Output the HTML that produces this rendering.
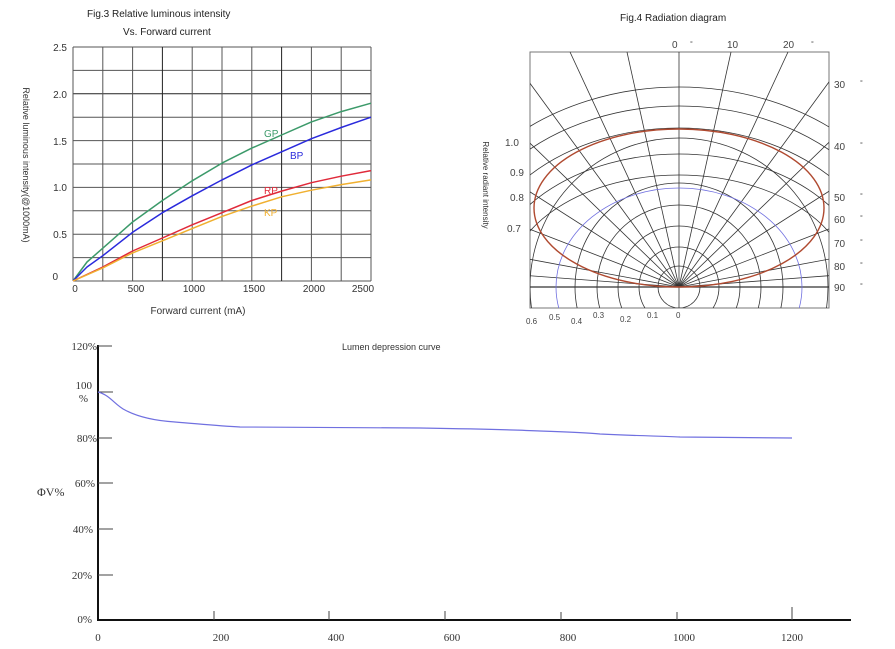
<!DOCTYPE html>
<html><head><meta charset="utf-8"><style>
html,body{margin:0;padding:0;background:#fff;}
svg{display:block;font-family:"Liberation Sans",sans-serif;}
.s{font-family:"Liberation Serif",serif;}
</style></head><body>
<svg width="895" height="649" viewBox="0 0 895 649" xmlns="http://www.w3.org/2000/svg">
<!-- Fig 3 -->
<text x="87" y="17" font-size="10" fill="#222">Fig.3 Relative luminous intensity</text>
<text x="123" y="35" font-size="10" fill="#222">Vs. Forward current</text>
<g stroke="#555" stroke-width="1">
<line x1="73" y1="47" x2="371" y2="47"/><line x1="73" y1="70.4" x2="371" y2="70.4"/>
<line x1="73" y1="93.8" x2="371" y2="93.8" stroke="#222"/><line x1="73" y1="117.2" x2="371" y2="117.2"/>
<line x1="73" y1="140.6" x2="371" y2="140.6"/><line x1="73" y1="164" x2="371" y2="164"/>
<line x1="73" y1="187.4" x2="371" y2="187.4"/><line x1="73" y1="210.8" x2="371" y2="210.8"/>
<line x1="73" y1="234.2" x2="371" y2="234.2"/><line x1="73" y1="257.6" x2="371" y2="257.6"/>
<line x1="73" y1="281" x2="371" y2="281"/>
<line x1="73" y1="47" x2="73" y2="281"/><line x1="102.8" y1="47" x2="102.8" y2="281"/>
<line x1="132.6" y1="47" x2="132.6" y2="281"/><line x1="162.4" y1="47" x2="162.4" y2="281" stroke="#222"/>
<line x1="192.2" y1="47" x2="192.2" y2="281"/><line x1="222" y1="47" x2="222" y2="281"/>
<line x1="251.8" y1="47" x2="251.8" y2="281"/><line x1="281.6" y1="47" x2="281.6" y2="281" stroke="#222"/>
<line x1="311.4" y1="47" x2="311.4" y2="281"/><line x1="341.2" y1="47" x2="341.2" y2="281"/>
<line x1="371" y1="47" x2="371" y2="281"/>
</g>
<g fill="none" stroke-width="1.5" stroke-linejoin="round">
<polyline points="73,281 87,262 102.8,248.2 132.6,222 162.4,200.5 192.2,180.8 222,163.1 251.8,148.1 281.6,135 311.4,121.9 341.2,111.6 371,103.2" stroke="#3c9a6a"/>
<polyline points="73,281 87,267 102.8,255.7 132.6,232.3 162.4,212.7 192.2,195.8 222,179.9 251.8,164.9 281.6,151.8 311.4,138.7 341.2,127.5 371,117.2" stroke="#2a2adc"/>
<polyline points="73,281 102.8,267 132.6,251 162.4,238 192.2,224.8 222,212.7 251.8,200.5 281.6,191.1 311.4,182.7 341.2,176.2 371,170.6" stroke="#e02a3a"/>
<polyline points="73,281 102.8,267.9 132.6,252.9 162.4,240.8 192.2,228.6 222,216.4 251.8,206.1 281.6,196.8 311.4,190.2 341.2,184.6 371,179.9" stroke="#f0b030"/>
</g>
<text x="264" y="137" font-size="10" fill="#3c9a6a">GP</text>
<text x="290" y="159" font-size="10" fill="#2a2adc">BP</text>
<text x="264" y="194" font-size="10" fill="#e02a3a">RP</text>
<text x="264" y="216" font-size="10" fill="#f0b030">KP</text>
<g font-size="10" fill="#333" text-anchor="end">
<text x="67" y="51">2.5</text><text x="67" y="98">2.0</text><text x="67" y="145">1.5</text>
<text x="67" y="191">1.0</text><text x="67" y="238">0.5</text><text x="58" y="280">0</text>
</g>
<g font-size="10" fill="#333" text-anchor="middle">
<text x="75" y="292">0</text><text x="136" y="292">500</text><text x="194" y="292">1000</text>
<text x="254" y="292">1500</text><text x="314" y="292">2000</text><text x="363" y="292">2500</text>
</g>
<text x="198" y="314" font-size="10" fill="#333" text-anchor="middle">Forward current (mA)</text>
<text transform="translate(23,165) rotate(90)" font-size="9" fill="#333" text-anchor="middle">Relative luminous intensity(@1000mA)</text>

<!-- Fig 4 -->
<text x="620" y="21" font-size="10" fill="#222">Fig.4  Radiation diagram</text>
<defs><clipPath id="bx"><rect x="530" y="52" width="299" height="256"/></clipPath></defs>
<rect x="530" y="52" width="299" height="256" fill="none" stroke="#777" stroke-width="1"/>
<g clip-path="url(#bx)" fill="none" stroke="#333" stroke-width="0.8">
<circle cx="679" cy="287" r="21"/><circle cx="679" cy="287" r="40"/><circle cx="679" cy="287" r="61"/>
<circle cx="679" cy="287" r="82"/><circle cx="679" cy="287" r="104"/><circle cx="679" cy="287" r="149"/>
<ellipse cx="679" cy="287" rx="172" ry="112"/><ellipse cx="679" cy="287" rx="190" ry="133"/>
<ellipse cx="679" cy="287" rx="210" ry="159"/><ellipse cx="679" cy="287" rx="230" ry="181"/>
<ellipse cx="679" cy="287" rx="250" ry="200"/>
<line x1="679" y1="287" x2="679" y2="0"/>
<line x1="679" y1="287" x2="627" y2="52"/><line x1="679" y1="287" x2="731" y2="52"/>
<line x1="679" y1="287" x2="570" y2="52"/><line x1="679" y1="287" x2="788" y2="52"/>
<line x1="679" y1="287" x2="480" y2="15"/><line x1="679" y1="287" x2="878" y2="15"/>
<line x1="679" y1="287" x2="480" y2="95"/><line x1="679" y1="287" x2="878" y2="95"/>
<line x1="679" y1="287" x2="480" y2="160"/><line x1="679" y1="287" x2="878" y2="160"/>
<line x1="679" y1="287" x2="480" y2="210"/><line x1="679" y1="287" x2="878" y2="210"/>
<line x1="679" y1="287" x2="480" y2="250"/><line x1="679" y1="287" x2="878" y2="250"/>
<line x1="679" y1="287" x2="480" y2="272"/><line x1="679" y1="287" x2="878" y2="272"/>
<line x1="530" y1="287" x2="829" y2="287" stroke-width="1.2"/>
<line x1="679" y1="287" x2="679" y2="308"/>
<ellipse cx="679" cy="287" rx="123" ry="99" stroke="#7070e0"/>
<ellipse cx="679" cy="208" rx="145" ry="79" stroke="#b04a30" stroke-width="1.4"/>
</g>
<g font-size="10" fill="#444">
<text x="672" y="48">0</text><text x="690" y="46" font-size="7">°</text>
<text x="727" y="48">10</text><text x="783" y="48">20</text><text x="811" y="46" font-size="7">°</text>
<text x="834" y="88">30</text><text x="834" y="150">40</text><text x="834" y="201">50</text>
<text x="834" y="223">60</text><text x="834" y="247">70</text><text x="834" y="270">80</text>
<text x="834" y="291">90</text>
<g font-size="7"><text x="860" y="85">°</text><text x="860" y="147">°</text><text x="860" y="198">°</text>
<text x="860" y="220">°</text><text x="860" y="244">°</text><text x="860" y="267">°</text><text x="860" y="288">°</text></g>
<text x="505" y="146">1.0</text><text x="510" y="176">0.9</text><text x="510" y="201">0.8</text><text x="507" y="232">0.7</text>
<g font-size="8"><text x="526" y="324">0.6</text><text x="549" y="320">0.5</text><text x="571" y="324">0.4</text>
<text x="593" y="318">0.3</text><text x="620" y="322">0.2</text><text x="647" y="318">0.1</text><text x="676" y="318">0</text></g>
</g>
<text transform="translate(483,185) rotate(90)" font-size="8" fill="#333" text-anchor="middle">Relative radiant intensity</text>

<!-- Bottom chart -->
<text x="342" y="350" font-size="9" fill="#333">Lumen depression curve</text>
<line x1="98" y1="345" x2="98" y2="621" stroke="#111" stroke-width="2"/>
<line x1="97" y1="620" x2="851" y2="620" stroke="#111" stroke-width="2"/>
<g stroke="#444" stroke-width="1">
<line x1="98" y1="346" x2="112" y2="346"/><line x1="98" y1="392" x2="113" y2="392"/>
<line x1="98" y1="438" x2="112" y2="438"/><line x1="98" y1="483" x2="113" y2="483"/>
<line x1="98" y1="529" x2="113" y2="529"/><line x1="98" y1="575" x2="113" y2="575"/>
<line x1="214" y1="620" x2="214" y2="611"/><line x1="329" y1="620" x2="329" y2="611"/>
<line x1="445" y1="620" x2="445" y2="611"/><line x1="561" y1="620" x2="561" y2="612"/>
<line x1="677" y1="620" x2="677" y2="612"/><line x1="792" y1="620" x2="792" y2="607"/>
</g>
<path d="M98,392 C110,395 115,405 125,410 C140,418 160,421 175,422 C200,424 220,426 240,427 L420,428 C480,429 520,430 540,431 C570,432 590,433 600,434 C640,436 660,436 680,437 L792,438" fill="none" stroke="#7070e0" stroke-width="1.2"/>
<g class="s" font-size="11" fill="#333" text-anchor="end">
<text x="97" y="350">120%</text><text x="92" y="389">100</text><text x="88" y="402">%</text>
<text x="97" y="442">80%</text><text x="95" y="487">60%</text><text x="93" y="533">40%</text>
<text x="92" y="579">20%</text><text x="92" y="623">0%</text>
</g>
<text x="37" y="496" class="s" font-size="12" fill="#333">ΦV%</text>
<g class="s" font-size="11" fill="#333" text-anchor="middle">
<text x="98" y="641">0</text><text x="221" y="641">200</text><text x="336" y="641">400</text>
<text x="452" y="641">600</text><text x="568" y="641">800</text><text x="684" y="641">1000</text><text x="792" y="641">1200</text>
</g>
</svg>
</body></html>
